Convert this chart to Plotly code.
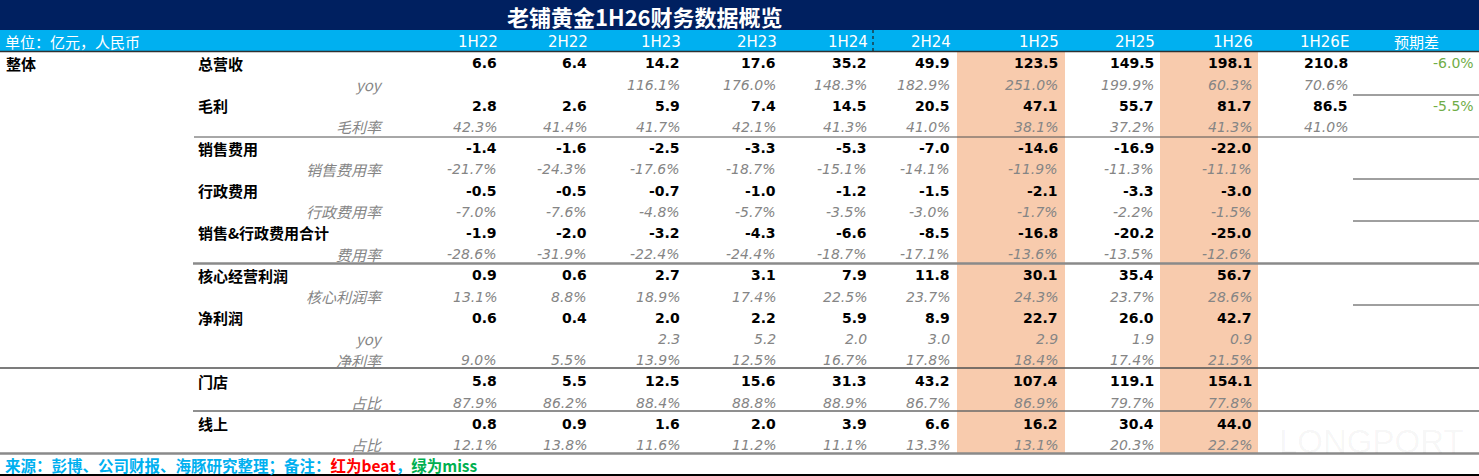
import plotly.graph_objects as go

# ---------------- data ----------------
title_text = "老铺黄金1H26财务数据概览"
unit_label = "单位：亿元，人民币"
section_label = "整体"
periods = ["1H22", "2H22", "1H23", "2H23", "1H24", "2H24", "1H25", "2H25", "1H26"]
est_header = "1H26E"
diff_header = "预期差"

revenue = [6.6, 6.4, 14.2, 17.6, 35.2, 49.9, 123.5, 149.5, 198.1]
revenue_yoy = [None, None, 116.1, 176.0, 148.3, 182.9, 251.0, 199.9, 60.3]
gross_profit = [2.8, 2.6, 5.9, 7.4, 14.5, 20.5, 47.1, 55.7, 81.7]
gross_margin = [42.3, 41.4, 41.7, 42.1, 41.3, 41.0, 38.1, 37.2, 41.3]
selling_exp = [-1.4, -1.6, -2.5, -3.3, -5.3, -7.0, -14.6, -16.9, -22.0]
selling_ratio = [-21.7, -24.3, -17.6, -18.7, -15.1, -14.1, -11.9, -11.3, -11.1]
admin_exp = [-0.5, -0.5, -0.7, -1.0, -1.2, -1.5, -2.1, -3.3, -3.0]
admin_ratio = [-7.0, -7.6, -4.8, -5.7, -3.5, -3.0, -1.7, -2.2, -1.5]
sga_total = [-1.9, -2.0, -3.2, -4.3, -6.6, -8.5, -16.8, -20.2, -25.0]
sga_ratio = [-28.6, -31.9, -22.4, -24.4, -18.7, -17.1, -13.6, -13.5, -12.6]
core_profit = [0.9, 0.6, 2.7, 3.1, 7.9, 11.8, 30.1, 35.4, 56.7]
core_margin = [13.1, 8.8, 18.9, 17.4, 22.5, 23.7, 24.3, 23.7, 28.6]
net_profit = [0.6, 0.4, 2.0, 2.2, 5.9, 8.9, 22.7, 26.0, 42.7]
net_yoy = [None, None, 2.3, 5.2, 2.0, 3.0, 2.9, 1.9, 0.9]
net_margin = [9.0, 5.5, 13.9, 12.5, 16.7, 17.8, 18.4, 17.4, 21.5]
store_rev = [5.8, 5.5, 12.5, 15.6, 31.3, 43.2, 107.4, 119.1, 154.1]
store_share = [87.9, 86.2, 88.4, 88.8, 88.9, 86.7, 86.9, 79.7, 77.8]
online_rev = [0.8, 0.9, 1.6, 2.0, 3.9, 6.6, 16.2, 30.4, 44.0]
online_share = [12.1, 13.8, 11.6, 11.2, 11.1, 13.3, 13.1, 20.3, 22.2]

revenue_est = 210.8
revenue_yoy_est = 70.6
gross_profit_est = 86.5
gross_margin_est = 41.0
revenue_diff = -6.0
gross_profit_diff = -5.5

highlight_periods = ["1H25", "1H26"]

footer_source = "来源：彭博、公司财报、海豚研究整理；备注："
footer_beat = "红为beat"
footer_sep = "，"
footer_miss = "绿为miss"
watermark = "LONGPORT"

# (label, values, kind, estimate, diff)
rows = [
    ("总营收", revenue, "main", revenue_est, revenue_diff),
    ("yoy", revenue_yoy, "pct", revenue_yoy_est, None),
    ("毛利", gross_profit, "main", gross_profit_est, gross_profit_diff),
    ("毛利率", gross_margin, "pct", gross_margin_est, None),
    ("销售费用", selling_exp, "main", None, None),
    ("销售费用率", selling_ratio, "pct", None, None),
    ("行政费用", admin_exp, "main", None, None),
    ("行政费用率", admin_ratio, "pct", None, None),
    ("销售&行政费用合计", sga_total, "main", None, None),
    ("费用率", sga_ratio, "pct", None, None),
    ("核心经营利润", core_profit, "main", None, None),
    ("核心利润率", core_margin, "pct", None, None),
    ("净利润", net_profit, "main", None, None),
    ("yoy", net_yoy, "num", None, None),
    ("净利率", net_margin, "pct", None, None),
    ("门店", store_rev, "main", None, None),
    ("占比", store_share, "pct", None, None),
    ("线上", online_rev, "main", None, None),
    ("占比", online_share, "pct", None, None),
]

# ---------------- layout constants ----------------
W, H = 1479, 476
col_right = [498, 588, 681, 777, 868, 951, 1059, 1155, 1253]
est_right = 1349
diff_right = 1475
diff_header_right = 1440
band_span = {"1H25": (957, 1065), "1H26": (1160, 1258)}
row_y0, row_step = 63.3, 21.2
label_x, sublabel_right = 197, 384

NUM_FONT = "DejaVu Sans, Noto Sans CJK SC, sans-serif"
CJK_FONT = "Noto Sans CJK SC, DejaVu Sans, sans-serif"
GRAY = "#858585"
NAVY = "#002060"
LIGHTBLUE = "#00b0f0"
ORANGE = "#f8cbad"
GREEN = "#70ad47"

fig = go.Figure()
shapes = []
annotations = []

def rect(x0, x1, y0, y1, color):
    shapes.append(dict(type="rect", xref="x", yref="y", x0=x0, x1=x1, y0=y0, y1=y1,
                       fillcolor=color, line=dict(width=0), layer="below"))

def hline(x0, x1, y, color, width, dash="solid"):
    shapes.append(dict(type="line", xref="x", yref="y", x0=x0, x1=x1, y0=y, y1=y,
                       line=dict(color=color, width=width, dash=dash), layer="above"))

def text(x, y, s, anchor="right", size=14, color="black", bold=False, italic=False, family=NUM_FONT):
    annotations.append(dict(x=x, y=y, xref="x", yref="y", text=s, showarrow=False,
                            xanchor=anchor, yanchor="middle", borderpad=0,
                            font=dict(size=size, color=color, family=family,
                                      weight="bold" if bold else "normal",
                                      style="italic" if italic else "normal")))

# backgrounds
rect(0, W, 0, 30, NAVY)
rect(0, W, 30, 51, LIGHTBLUE)
for p in highlight_periods:
    x0, x1 = band_span[p]
    rect(x0, x1, 51, 453, ORANGE)

# title & header
text(506, 16, title_text, anchor="left", size=22, color="white", bold=True, family=CJK_FONT)
text(4, 41.5, unit_label, anchor="left", size=15, color="white", family=CJK_FONT)
for p, x in zip(periods, col_right):
    text(x + 1, 41.5, p, size=15, color="white")
text(est_right + 1, 41.5, est_header, size=15, color="white")
text(diff_header_right, 41.5, diff_header, size=15, color="white", family=CJK_FONT)
shapes.append(dict(type="line", xref="x", yref="y", x0=873, x1=873, y0=30, y1=51,
                   line=dict(color="#202020", width=1.2, dash="dot")))

# body
text(5, row_y0, section_label, anchor="left", size=15, bold=True, family=CJK_FONT)
for i, (label, vals, kind, est, diff) in enumerate(rows):
    y = row_y0 + i * row_step
    if kind == "main":
        text(label_x, y, label, anchor="left", size=15, bold=True, family=CJK_FONT)
    else:
        text(sublabel_right, y, label, size=15, color=GRAY, italic=True, family=CJK_FONT)
    for v, x in zip(vals, col_right):
        if v is None:
            continue
        if kind == "main":
            text(x, y, f"{v:.1f}", size=14, bold=True)
        elif kind == "pct":
            text(x, y, f"{v:.1f}%", size=14, color=GRAY, italic=True)
        else:
            text(x, y, f"{v:.1f}", size=14, color=GRAY, italic=True)
    if est is not None:
        if kind == "main":
            text(est_right, y, f"{est:.1f}", size=14, bold=True)
        else:
            text(est_right, y, f"{est:.1f}%", size=14, color=GRAY, italic=True)
    if diff is not None:
        text(diff_right, y, f"{diff:.1f}%", size=14, color=GREEN)

# rules
hline(0, W, 51.5, "#303030", 1.5)
hline(194, W, 137, "#505050", 1)
for yy in (95, 179, 221, 305):
    hline(1353, W, yy, "#404040", 1)
hline(193, W, 263.5, "#8a8a8a", 2.5)
hline(0, W, 368, "#505050", 1.5)
hline(193, W, 411, "#6a6a6a", 1.5)
hline(0, W, 453.5, "#8a8a8a", 2.5)
hline(0, W, 475, "#000000", 2)

# footer
footer_html = (f"<span style='color:{LIGHTBLUE}'>{footer_source}</span>"
               f"<span style='color:#ff0000'>{footer_beat}</span>"
               f"<span style='color:{LIGHTBLUE}'>{footer_sep}</span>"
               f"<span style='color:#00b050'>{footer_miss}</span>")
text(4, 465, footer_html, anchor="left", size=15.5, bold=True, color=LIGHTBLUE, family=CJK_FONT)

# watermark
text(1371, 441, watermark, anchor="center", size=33, color="rgba(0,0,0,0.045)",
     family="Liberation Sans, sans-serif")

fig.add_trace(go.Scatter(x=[0, W], y=[0, H], mode="markers", marker=dict(opacity=0),
                         hoverinfo="skip", showlegend=False))

fig.update_layout(
    width=W, height=H,
    margin=dict(l=0, r=0, t=0, b=0),
    paper_bgcolor="white", plot_bgcolor="white",
    xaxis=dict(range=[0, W], visible=False, fixedrange=True),
    yaxis=dict(range=[H, 0], visible=False, fixedrange=True),
    shapes=shapes, annotations=annotations, showlegend=False,
)

fig.write_html("out.html", config={"displayModeBar": False, "staticPlot": True},
               post_script="document.body.style.margin='0';document.body.style.overflow='hidden';")
